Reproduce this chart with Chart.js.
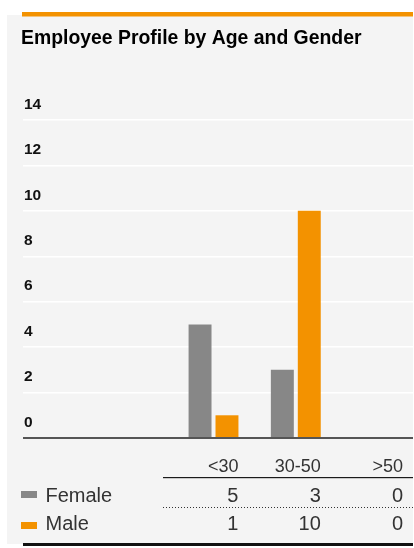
<!DOCTYPE html>
<html><head><meta charset="utf-8">
<script src="https://cdn.jsdelivr.net/npm/chart.js@4.4.1/dist/chart.umd.min.js"></script>
<style>html,body{margin:0;padding:0;background:#fff;}canvas{display:block;}</style>
</head><body>
<canvas id="c" width="414" height="548"></canvas>
<script>
const chartTitle = 'Employee Profile by Age and Gender';
const categories = ['<30', '30-50', '>50'];
const seriesNames = ['Female', 'Male'];
const female = [5, 3, 0];
const male = [1, 10, 0];
const yTicks = [0, 2, 4, 6, 8, 10, 12, 14];

const GREY = '#878787', ORANGE = '#f39200';
const FONT = '"Liberation Sans", Arial, sans-serif';

const toPoints = arr => arr.map((v, i) => ({x: i + 1, y: v}));

const panelPlugin = {
  id: 'panel',
  beforeDraw(chart) {
    const ctx = chart.ctx;
    ctx.save();
    ctx.fillStyle = '#fff'; ctx.fillRect(0, 0, chart.width, chart.height);
    ctx.fillStyle = '#f4f4f4'; ctx.fillRect(7, 15, 406, 529);
    ctx.fillStyle = ORANGE; ctx.fillRect(22, 12, 391, 4.5);
    ctx.restore();
  }
};

const tablePlugin = {
  id: 'table',
  afterDraw(chart) {
    const ctx = chart.ctx;
    const area = chart.chartArea;
    const ds = chart.data.datasets;
    const lastMeta = chart.getDatasetMeta(ds.length - 1);
    const rights = lastMeta.data.map(b => b.x + b.width / 2);
    const tableLeft = 163;
    ctx.save();
    // header
    ctx.fillStyle = '#333';
    ctx.font = '18px ' + FONT;
    ctx.textAlign = 'right';
    ctx.textBaseline = 'alphabetic';
    chart.data.labels.forEach((lab, i) => ctx.fillText(lab, rights[i], 471.5));
    ctx.fillStyle = '#1a1a1a';
    ctx.fillRect(tableLeft, 477, area.right - tableLeft, 1.2);
    // rows
    const baselines = [502, 530];
    const swatchY = [491, 522];
    ds.forEach((d, r) => {
      ctx.fillStyle = d.backgroundColor;
      ctx.fillRect(21, swatchY[r], 16, 7);
      ctx.fillStyle = '#333';
      ctx.font = '20px ' + FONT;
      ctx.textAlign = 'left';
      ctx.fillText(d.label, 45.5, baselines[r]);
      ctx.textAlign = 'right';
      d.data.forEach((p, i) => ctx.fillText(String(p.y), rights[i], baselines[r]));
    });
    // dotted separator
    ctx.strokeStyle = '#333';
    ctx.lineWidth = 1;
    ctx.setLineDash([1, 2]);
    ctx.beginPath();
    ctx.moveTo(tableLeft, 507.5); ctx.lineTo(area.right, 507.5);
    ctx.stroke();
    ctx.setLineDash([]);
    // bottom rule
    ctx.fillStyle = '#111';
    ctx.fillRect(area.left, 543, area.right - area.left, 3);
    ctx.restore();
  }
};

new Chart(document.getElementById('c'), {
  type: 'bar',
  data: {
    labels: categories,
    datasets: [
      {label: seriesNames[0], data: toPoints(female), backgroundColor: GREY},
      {label: seriesNames[1], data: toPoints(male), backgroundColor: ORANGE}
    ]
  },
  options: {
    responsive: false,
    animation: false,
    devicePixelRatio: 1,
    layout: {padding: {left: 21, right: 1, top: 0, bottom: 110}},
    datasets: {bar: {categoryPercentage: 0.6545, barPercentage: 0.852, borderWidth: 0}},
    plugins: {
      legend: {display: false},
      tooltip: {enabled: false},
      title: {
        display: true, text: chartTitle, align: 'start', color: '#000',
        font: {family: FONT, size: 19.4, weight: 'bold', lineHeight: 1.2},
        padding: {top: 27.4, bottom: 69.3}
      }
    },
    scales: {
      x: {
        type: 'linear', display: false, offset: false, min: -1.315, max: 3.424,
        afterBuildTicks: s => { s.ticks = categories.map((c, i) => ({value: i + 1})); }
      },
      y: {
        min: yTicks[0], max: yTicks[yTicks.length - 1],
        afterBuildTicks: s => { s.ticks = yTicks.map(v => ({value: v})); },
        border: {display: false},
        grid: {
          drawTicks: false,
          color: c => (c.tick && c.tick.value === 0) ? '#555' : '#ffffff',
          lineWidth: c => (c.tick && c.tick.value === 0) ? 2 : 1.5
        },
        ticks: {
          mirror: true, padding: 1, labelOffset: -15.5, color: '#111',
          font: {family: FONT, size: 15.5, weight: 'bold'}
        }
      }
    }
  },
  plugins: [panelPlugin, tablePlugin]
});
</script>
</body></html>
